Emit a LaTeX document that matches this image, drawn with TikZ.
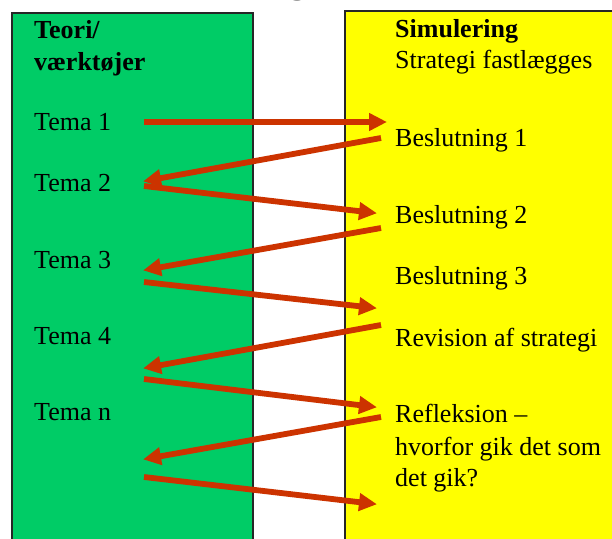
\documentclass[tikz,border=0pt]{standalone}
\usepackage{fontspec}
\setmainfont{Liberation Serif}
\usetikzlibrary{arrows.meta}
\definecolor{boxgreen}{RGB}{0,204,102}
\definecolor{boxyellow}{RGB}{255,255,0}
\definecolor{arrowred}{RGB}{204,51,0}
\tikzset{
  lbl/.style={anchor=base west, inner sep=0pt, font=\fontsize{26}{31}\selectfont},
  hdr/.style={lbl, font=\fontsize{26}{31}\selectfont\bfseries},
  panel/.style={draw=black!85, line width=1.2pt},
  flow/.style={draw=arrowred, line width=5.8pt, -{Triangle[length=18pt,width=17pt]}, shorten >=-2pt}
}
\begin{document}
\begin{tikzpicture}[x=1pt,y=-1pt]
\useasboundingbox (0,0) rectangle (612,538);
\clip (0,0) rectangle (612,538);
\fill[white] (0,0) rectangle (612,538);
% cut-off title fragment
\node[anchor=base, inner sep=0pt, font=\fontsize{38}{40}\selectfont\bfseries] (title) at (298,-7.5) {g};
% panels
\draw[panel, fill=boxgreen] (12,13) rectangle (253,560);
\draw[panel, fill=boxyellow] (345,11) rectangle (640,560);
% left texts
\node[hdr] (teori) at (34,38) {Teori/};
\node[hdr] (vaerk) at (34,70) {værktøjer};
\node[lbl] (t1) at (34,130.7) {Tema 1};
\node[lbl] (t2) at (34,191.7) {Tema 2};
\node[lbl] (t3) at (34,268) {Tema 3};
\node[lbl] (t4) at (34,344) {Tema 4};
\node[lbl] (tn) at (34,420.7) {Tema n};
% right texts
\node[hdr] (sim) at (395,37.3) {Simulering};
\node[lbl] (strat) at (395,68.3) {Strategi fastlægges};
\node[lbl] (b1) at (395,146.7) {Beslutning 1};
\node[lbl] (b2) at (395,223.3) {Beslutning 2};
\node[lbl] (b3) at (395,284) {Beslutning 3};
\node[lbl] (rev) at (395,346) {Revision af strategi};
\node[lbl] (ref1) at (395,422.7) {Refleksion –};
\node[lbl] (ref2) at (395,455) {hvorfor gik det som};
\node[lbl] (ref3) at (395,486) {det gik?};
% arrow end points
\coordinate (a1s) at (144,122);  \coordinate (a1e) at (385,122);
\coordinate (a2s) at (381,138);  \coordinate (a2e) at (145,181);
\coordinate (a3s) at (144,186);  \coordinate (a3e) at (375,213);
\coordinate (a4s) at (381,228);  \coordinate (a4e) at (145,270);
\coordinate (a5s) at (144,282);  \coordinate (a5e) at (375,308);
\coordinate (a6s) at (381,325);  \coordinate (a6e) at (145,368);
\coordinate (a7s) at (144,379);  \coordinate (a7e) at (375,407);
\coordinate (a8s) at (381,417);  \coordinate (a8e) at (145,459);
\coordinate (a9s) at (144,477);  \coordinate (a9e) at (375,504);
\foreach \i in {1,...,9}{\draw[flow] (a\i s) -- (a\i e);}
\end{tikzpicture}
\end{document}
